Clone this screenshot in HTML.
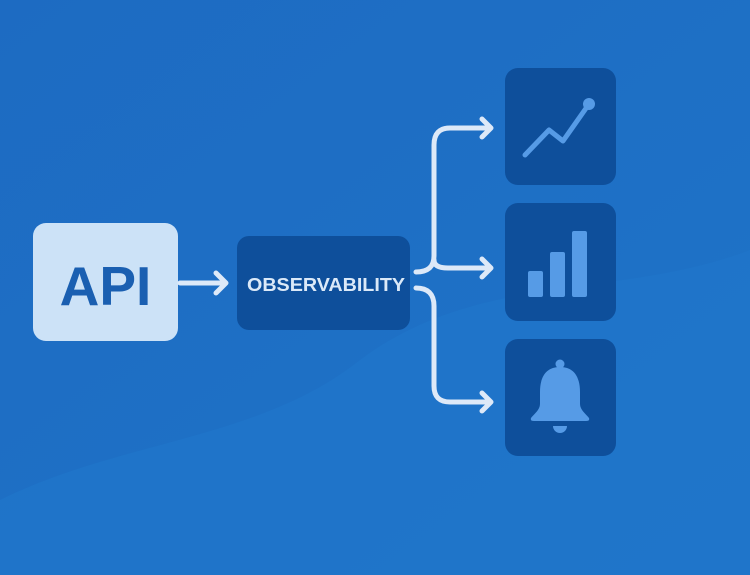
<!DOCTYPE html>
<html><head><style>
html,body{margin:0;padding:0;width:750px;height:575px;overflow:hidden;background:#1e6fc4}
</style></head><body>
<svg width="750" height="575" viewBox="0 0 750 575" xmlns="http://www.w3.org/2000/svg">
<defs>
<linearGradient id="bg" x1="0" y1="0" x2="1" y2="1">
<stop offset="0" stop-color="#1d6bc2"/><stop offset="1" stop-color="#1f74c8"/>
</linearGradient>
</defs>
<rect width="750" height="575" fill="url(#bg)"/>
<path d="M0 500 C120 440 260 440 360 360 C480 270 620 300 750 250 L750 575 L0 575 Z" fill="#1f76ca" opacity="0.7"/>
<rect x="33" y="223" width="145" height="118" rx="13" fill="#cce2f7"/>
<text x="105.5" y="305" text-anchor="middle" font-family="Liberation Sans, sans-serif" font-weight="bold" font-size="55" fill="#1a5fb1">API</text>
<rect x="237" y="236" width="173" height="94" rx="12" fill="#0e4f9b"/>
<text x="247" y="291" textLength="158" lengthAdjust="spacingAndGlyphs" font-family="Liberation Sans, sans-serif" font-weight="bold" font-size="18" fill="#dbe9f8">OBSERVABILITY</text>
<g fill="none" stroke="#dde9f8" stroke-width="5" stroke-linecap="round" stroke-linejoin="round">
<path d="M180 283 H224 M216 273 L226 283 L216 293"/>
<path d="M416 272 Q434 272 434 256 V145 Q434 128 450 128 H490 M482 119 L491 128 L482 137"/>
<path d="M434 260 Q434 268 448 268 H490 M482 259 L491 268 L482 277"/>
<path d="M416 288 Q434 288 434 306 V386 Q434 402 450 402 H490 M482 393 L491 402 L482 411"/>
</g>
<rect x="505" y="68" width="111" height="117" rx="13" fill="#0e4f9b"/>
<rect x="505" y="203" width="111" height="118" rx="13" fill="#0e4f9b"/>
<rect x="505" y="339" width="111" height="117" rx="13" fill="#0e4f9b"/>
<g fill="#569be6">
<polyline points="525,155 549,130 563,141 589,104" fill="none" stroke="#569be6" stroke-width="5" stroke-linecap="round" stroke-linejoin="round"/>
<circle cx="589" cy="104" r="6"/>
<rect x="528" y="271" width="15" height="26" rx="2"/>
<rect x="550" y="252" width="15" height="45" rx="2"/>
<rect x="572" y="231" width="15" height="66" rx="2"/>
<circle cx="560" cy="364" r="4.5"/>
<path d="M560 367 C546 367 540 377 540 392 V404 C540 410 534 414 531 418 Q530 421 534 421 H586 Q590 421 589 418 C586 414 580 410 580 404 V392 C580 377 574 367 560 367 Z"/>
<path d="M553 426 H567 A7 7 0 0 1 553 426 Z"/>
</g>
</svg>
</body></html>
